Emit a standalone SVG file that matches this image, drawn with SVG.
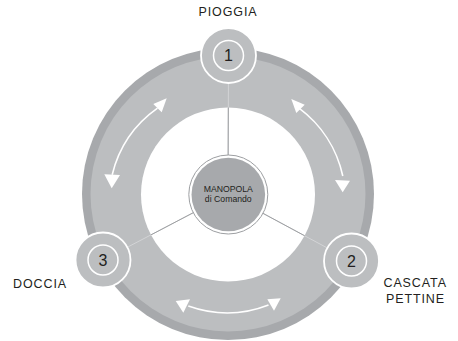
<svg xmlns="http://www.w3.org/2000/svg" width="458" height="341" viewBox="0 0 458 341">
  <style>
    .lbl { font-family: "Liberation Sans", Arial, sans-serif; font-size: 12.5px; fill: #231f20; letter-spacing: 0.9px; }
    .num { font-family: "Liberation Sans", Arial, sans-serif; font-size: 16px; fill: #231f20; text-anchor: middle; }
    .ctr { font-family: "Liberation Sans", Arial, sans-serif; font-size: 8.7px; fill: #231f20; text-anchor: middle; }
    .nodeOuter { fill: #bcbec0; stroke: #ffffff; stroke-width: 1.8; }
    .nodeInner { fill: #bcbec0; stroke: #ffffff; stroke-width: 1.5; }
    .arc { fill: none; stroke: #ffffff; stroke-width: 1.6; }
    .head { fill: #ffffff; }
    .conLight { stroke: #d3d4d6; stroke-width: 1; fill: none; }
    .conDark { stroke: #9d9fa2; stroke-width: 1; fill: none; }
  </style>
  <defs>
    <clipPath id="innerClip">
      <circle cx="228" cy="194.5" r="87"/>
    </clipPath>
  </defs>

  <g id="ring">
    <circle cx="228" cy="194" r="146" fill="#a7a9ac"/>
    <circle cx="228" cy="194" r="137.5" fill="#bcbec0"/>
    <circle cx="228" cy="194.5" r="87" fill="#ffffff"/>
  </g>

  <g id="connectors">
    <line class="conLight" x1="228" y1="194.5" x2="228.5" y2="55.5"/>
    <line class="conLight" x1="228" y1="194.5" x2="351.5" y2="261"/>
    <line class="conLight" x1="228" y1="194.5" x2="103" y2="260"/>
    <g clip-path="url(#innerClip)">
      <line class="conDark" x1="228" y1="194.5" x2="228.5" y2="55.5"/>
      <line class="conDark" x1="228" y1="194.5" x2="351.5" y2="261"/>
      <line class="conDark" x1="228" y1="194.5" x2="103" y2="260"/>
    </g>
    <!-- top-left double arrow -->
    <path class="arc" d="M157.5,108.2 A115,115 0 0 0 112.2,174.7"/>
    <polygon class="head" points="166.7,98.3 153.3,104 161.7,112.3"/>
    <polygon class="head" points="111.7,188.3 104.3,174.3 120,175"/>
    <!-- top-right double arrow -->
    <path class="arc" d="M299,108.2 A115,115 0 0 1 342.8,176"/>
    <polygon class="head" points="291.3,99 304.7,104.7 296.3,113"/>
    <polygon class="head" points="342.7,192.3 335,180 350,180.7"/>
    <!-- bottom double arrow -->
    <path class="arc" d="M188.3,306 Q229,320.5 268.5,305"/>
    <polygon class="head" points="175.7,301 190,299.3 183.3,312.7"/>
    <polygon class="head" points="267.3,299.3 280.7,298.3 274,310.7"/>
  </g>

  <g id="center">
    <circle cx="228.3" cy="194.5" r="39.5" fill="#ffffff" stroke="#9d9fa2" stroke-width="1"/>
    <circle cx="228.3" cy="194.5" r="36.8" fill="#a7a9ac"/>
    <text class="ctr" x="228.3" y="191.7">MANOPOLA</text>
    <text class="ctr" x="228.3" y="202.3">di Comando</text>
  </g>

  <g id="node1">
    <circle class="nodeOuter" cx="228.5" cy="55.5" r="27.5"/>
    <circle class="nodeInner" cx="228.5" cy="55.5" r="15"/>
    <text class="num" x="228.5" y="61.3">1</text>
    <text class="lbl" x="228" y="15.7" text-anchor="middle">PIOGGIA</text>
  </g>

  <g id="node2">
    <circle class="nodeOuter" cx="351.5" cy="261" r="27.5"/>
    <circle class="nodeInner" cx="351.5" cy="261" r="15"/>
    <text class="num" x="351.5" y="266.8">2</text>
    <text class="lbl" x="415.2" y="286.7" text-anchor="middle">CASCATA</text>
    <text class="lbl" x="415.5" y="303.3" text-anchor="middle">PETTINE</text>
  </g>

  <g id="node3">
    <circle class="nodeOuter" cx="103" cy="260" r="27.5"/>
    <circle class="nodeInner" cx="103" cy="260" r="15"/>
    <text class="num" x="103" y="265.8">3</text>
    <text class="lbl" x="13" y="288.3">DOCCIA</text>
  </g>
</svg>
